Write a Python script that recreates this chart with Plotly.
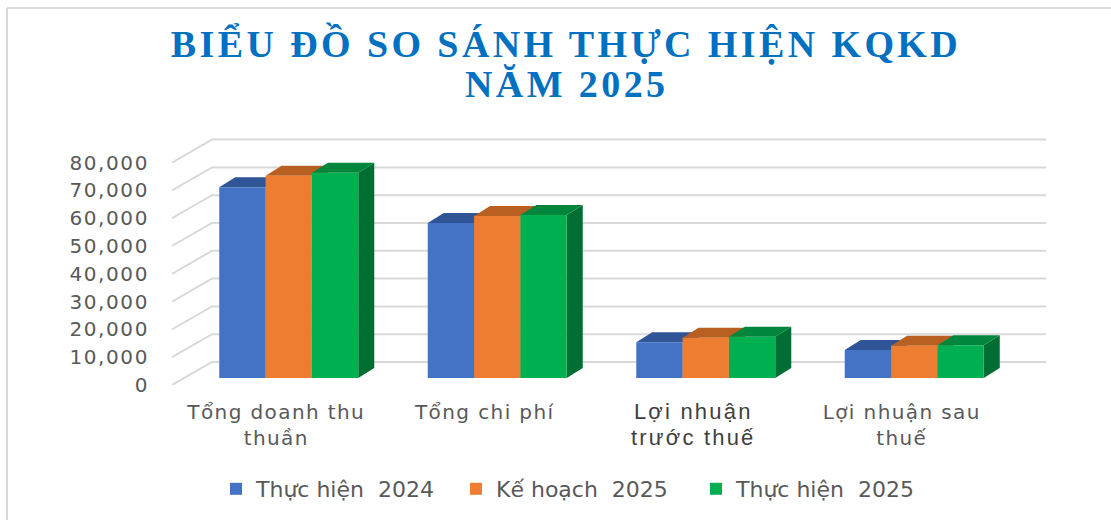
import plotly.graph_objects as go

TITLE_LINE_1 = "BIỂU ĐỒ SO SÁNH THỰC HIỆN KQKD"
TITLE_LINE_2 = "NĂM 2025"
CATEGORIES = ["Tổng doanh thu thuần", "Tổng chi phí", "Lợi nhuận trước thuế", "Lợi nhuận sau thuế"]
CATEGORY_LINES = [
    ["Tổng doanh thu", "thuần"],
    ["Tổng chi phí"],
    ["Lợi nhuận", "trước thuế"],
    ["Lợi nhuận sau", "thuế"],
]
SERIES_NAMES = ["Thực hiện  2024", "Kế hoạch  2025", "Thực hiện  2025"]
THUC_HIEN_2024 = [68600, 55750, 12840, 10070]
KE_HOACH_2025 = [72770, 58270, 14500, 11620]
THUC_HIEN_2025 = [73850, 58600, 14860, 11760]
SERIES_VALUES = [THUC_HIEN_2024, KE_HOACH_2025, THUC_HIEN_2025]
Y_TICKS = [0, 10000, 20000, 30000, 40000, 50000, 60000, 70000, 80000]

FRONT = ["#4472C4", "#ED7D31", "#00B050"]
TOP = ["#2F5597", "#B85F22", "#00853C"]
SIDE = ["#2F5597", "#B85F22", "#006E33"]
GRID = "#D9D9D9"
TEXT = "#595959"
TITLE_COLOR = "#0070C0"

W, H = 1111, 520
PLOT_L, PLOT_R, PLOT_T, PLOT_B = 172, 1046, 138, 385
PX_PER_CAT = 208.5
PX_PER_UNIT = 27.8 / 10000
FLOOR_DX, FLOOR_DY = 40, 23      # wall depth, px
BAR_SHIFT_X, BAR_SHIFT_Y = 12.5, 7  # bar front plane relative to chart front
BAR_DX, BAR_DY = 16, 10          # bar depth, px
GAP = 1 / 3
N = len(CATEGORIES)
BAR_W = (1 - GAP) / len(SERIES_VALUES)


def paper_y(px):
    return (H - px) / H


def spaced(text, px, extra=""):
    return f'<span style="letter-spacing:{px}px;{extra}">{text}</span>'


category_labels = []
for i, lines in enumerate(CATEGORY_LINES):
    if i == 2:
        style = "font-family:Liberation Sans;font-size:22px;color:#404040"
        category_labels.append("<br>".join(spaced(t, 2.2, style) for t in lines))
    else:
        category_labels.append("<br>".join(spaced(t, 1.4) for t in lines))
y_labels = [spaced(f"{v:,}", 1.6) for v in Y_TICKS]

x_lo = -0.5
x_hi = x_lo + (PLOT_R - PLOT_L) / PX_PER_CAT
y_hi = (PLOT_B - PLOT_T) / PX_PER_UNIT
bx_lo, bx_hi = x_lo - BAR_SHIFT_X / PX_PER_CAT, x_hi - BAR_SHIFT_X / PX_PER_CAT
by_lo, by_hi = -BAR_SHIFT_Y / PX_PER_UNIT, y_hi - BAR_SHIFT_Y / PX_PER_UNIT

fig = go.Figure()

# wall and floor gridlines, derived from the value ticks
gx, gy = [], []
for v in Y_TICKS:
    wall = v + FLOOR_DY / PX_PER_UNIT
    gx += [x_lo, x_lo + FLOOR_DX / PX_PER_CAT, x_lo + FLOOR_DX / PX_PER_CAT + N, None]
    gy += [v, wall, wall, None]
fig.add_trace(go.Scatter(x=gx, y=gy, mode="lines", line=dict(color=GRID, width=2),
                         showlegend=False, hoverinfo="skip"))

# top and side faces of the bars
ddx, ddy = BAR_DX / PX_PER_CAT, BAR_DY / PX_PER_UNIT
for s, values in enumerate(SERIES_VALUES):
    for i, v in enumerate(values):
        x0 = i - (1 - GAP) / 2 + s * BAR_W
        x1 = x0 + BAR_W
        fig.add_trace(go.Scatter(x=[x1, x1 + ddx, x1 + ddx, x1, x1], y=[0, ddy, v + ddy, v, 0],
                                 mode="lines", fill="toself", fillcolor=SIDE[s], line=dict(width=0),
                                 xaxis="x2", yaxis="y2", showlegend=False, hoverinfo="skip"))
        fig.add_trace(go.Scatter(x=[x0, x1, x1 + ddx, x0 + ddx, x0], y=[v, v, v + ddy, v + ddy, v],
                                 mode="lines", fill="toself", fillcolor=TOP[s], line=dict(width=0),
                                 xaxis="x2", yaxis="y2", showlegend=False, hoverinfo="skip"))

# front faces
for s, values in enumerate(SERIES_VALUES):
    fig.add_trace(go.Bar(x=CATEGORIES, y=values, name=SERIES_NAMES[s],
                         marker=dict(color=FRONT[s], line=dict(width=0)), xaxis="x3", yaxis="y3"))

x_dom = [PLOT_L / W, PLOT_R / W]
y_dom = [paper_y(PLOT_B), paper_y(PLOT_T)]
hidden = dict(visible=False, showgrid=False, zeroline=False, fixedrange=True)
title_font = dict(family="Liberation Serif", size=38, color=TITLE_COLOR, weight="bold")

fig.update_layout(
    width=W, height=H, autosize=False,
    margin=dict(l=0, r=0, t=0, b=0, autoexpand=False),
    paper_bgcolor="white", plot_bgcolor="rgba(0,0,0,0)",
    font=dict(family="DejaVu Sans", color=TEXT),
    barmode="group", bargap=GAP, bargroupgap=0,
    title=dict(text=spaced(TITLE_LINE_1, 3.4), x=566 / W, xanchor="center", y=1 - 44 / H, yanchor="middle",
               font=title_font),
    annotations=[dict(text=spaced(TITLE_LINE_2, 3.4), xref="paper", yref="paper", x=566 / W, y=paper_y(84),
                      xanchor="center", yanchor="middle", showarrow=False, font=title_font)],
    xaxis=dict(domain=x_dom, range=[x_lo, x_hi], tickmode="array", tickvals=list(range(N)),
               ticktext=category_labels, tickangle=0, showgrid=False, zeroline=False, showline=False,
               ticks="outside", ticklen=9, tickcolor="rgba(0,0,0,0)", tickfont=dict(size=20, color=TEXT)),
    yaxis=dict(domain=y_dom, range=[0, y_hi], tickmode="array", tickvals=Y_TICKS, ticktext=y_labels,
               showgrid=False, zeroline=False, showline=False,
               ticks="outside", ticklen=18, tickcolor="rgba(0,0,0,0)", tickfont=dict(size=20, color=TEXT)),
    xaxis2=dict(domain=x_dom, range=[bx_lo, bx_hi], overlaying="x", **hidden),
    yaxis2=dict(domain=y_dom, range=[by_lo, by_hi], overlaying="y", **hidden),
    xaxis3=dict(domain=x_dom, range=[bx_lo, bx_hi], overlaying="x", type="category",
                categoryorder="array", categoryarray=CATEGORIES, **hidden),
    yaxis3=dict(domain=y_dom, range=[by_lo, by_hi], overlaying="y", **hidden),
    legend=dict(orientation="h", x=216 / W, xanchor="left",
                y=paper_y(468), yanchor="top", entrywidth=195, entrywidthmode="pixels",
                font=dict(size=22, color=TEXT), bgcolor="rgba(0,0,0,0)"),
    showlegend=True,
    shapes=[
        dict(type="line", xref="paper", yref="paper", x0=7 / W, x1=1, y0=paper_y(8), y1=paper_y(8),
             line=dict(color=GRID, width=2)),
        dict(type="line", xref="paper", yref="paper", x0=7 / W, x1=7 / W, y0=0, y1=paper_y(8),
             line=dict(color=GRID, width=2)),
    ],
)

fig.write_html("out.html", config={"displayModeBar": False},
               post_script="document.body.style.margin='0';")
